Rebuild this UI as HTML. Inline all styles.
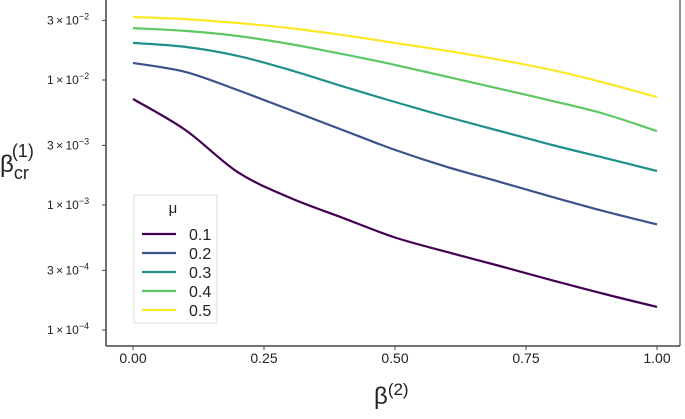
<!DOCTYPE html>
<html><head><meta charset="utf-8"><style>
body{margin:0;background:#fff;}
svg text{font-family:"Liberation Sans",sans-serif;fill:#222;}
</style></head><body>
<svg id="c" width="685" height="414" viewBox="0 0 685 414" xmlns="http://www.w3.org/2000/svg"></svg>
<script>
const xs=[0,0.1,0.2,0.3,0.4,0.5,0.6,0.7,0.8,0.9,1.0];
const mu1=[7.05e-3,3.98e-3,1.83e-3,1.14e-3,7.9e-4,5.5e-4,4.2e-4,3.25e-4,2.5e-4,1.94e-4,1.53e-4];
const mu2=[1.37e-2,1.16e-2,8.3e-3,5.75e-3,3.98e-3,2.76e-3,2.01e-3,1.53e-3,1.16e-3,8.9e-4,7.0e-4];
const mu3=[1.98e-2,1.84e-2,1.56e-2,1.20e-2,8.9e-3,6.67e-3,5.06e-3,3.91e-3,3.02e-3,2.38e-3,1.87e-3];
const mu4=[2.6e-2,2.47e-2,2.25e-2,1.94e-2,1.61e-2,1.32e-2,1.06e-2,8.5e-3,6.8e-3,5.35e-3,3.9e-3];
const mu5=[3.19e-2,3.07e-2,2.86e-2,2.6e-2,2.29e-2,1.98e-2,1.71e-2,1.45e-2,1.2e-2,9.5e-3,7.3e-3];
const seriesNames=["0.1","0.2","0.3","0.4","0.5"];
const xTicks=[0,0.25,0.5,0.75,1.0];
const xTickLabels=["0.00","0.25","0.50","0.75","1.00"];
const yTicks=[3e-2,1e-2,3e-3,1e-3,3e-4,1e-4];
const yTickMant=["3","1","3","1","3","1"];
const yTickExp=["−2","−2","−3","−3","−4","−4"];
const colors=["#440154","#3b528b","#21908c","#5dc863","#fde725"];
const series=[mu1,mu2,mu3,mu4,mu5];
const X=v=>133+524*v;
const Y=v=>80+125*(-2-Math.log10(v));
const svg=document.getElementById('c');
const NS="http://www.w3.org/2000/svg";
function mk(t,a,txt){const e=document.createElementNS(NS,t);for(const k in a)e.setAttribute(k,a[k]);if(txt!==undefined)e.textContent=txt;svg.appendChild(e);return e;}
function smooth(p){let d='M'+p[0][0].toFixed(1)+' '+p[0][1].toFixed(1);
 for(let i=0;i<p.length-1;i++){const p0=p[i-1]||p[i],p1=p[i],p2=p[i+1],p3=p[i+2]||p2;
  const c1=[p1[0]+(p2[0]-p0[0])/6,p1[1]+(p2[1]-p0[1])/6],c2=[p2[0]-(p3[0]-p1[0])/6,p2[1]-(p3[1]-p1[1])/6];
  d+=' C'+c1[0].toFixed(1)+' '+c1[1].toFixed(1)+' '+c2[0].toFixed(1)+' '+c2[1].toFixed(1)+' '+p2[0].toFixed(1)+' '+p2[1].toFixed(1);}
 return d;}
let e;
e=mk('line',{x1:106,y1:0,x2:106,y2:346,stroke:'#222','stroke-width':1.3});

e=mk('line',{x1:106,y1:346,x2:680,y2:346,stroke:'#222','stroke-width':1.3});

e=mk('line',{x1:680,y1:0,x2:680,y2:346,stroke:'#222','stroke-width':1});

yTicks.forEach((v,i)=>{
 const y=Y(v);
 e=mk('line',{x1:102,y1:y,x2:106,y2:y,stroke:'#444'});
 
 const t=mk('text',{x:47,y:y+4,'font-size':12});
 
 t.innerHTML=yTickMant[i]+'\u2009×\u200910<tspan dy="-5" font-size="9">'+yTickExp[i]+'</tspan>';
});
xTicks.forEach((v,i)=>{
 const x=X(v);
 e=mk('line',{x1:x,y1:346,x2:x,y2:350,stroke:'#444'});
 
 e=mk('text',{x:x,y:363,'font-size':14,'text-anchor':'middle'},xTickLabels[i]);
 
});
series.forEach((s,k)=>{
 const d=smooth(s.map((v,i)=>[X(xs[i]),Y(v)]));
 e=mk('path',{d:d,fill:'none',stroke:colors[k],'stroke-width':2.2,'stroke-linejoin':'round'});
 
});
e=mk('rect',{x:134,y:195,width:83,height:128,fill:'#fff',stroke:'#ddd'});

e=mk('text',{x:173,y:213,'font-size':15,'text-anchor':'middle'},'μ');

seriesNames.forEach((n,k)=>{
 const y=234+19*k;
 e=mk('line',{x1:142,y1:y,x2:176,y2:y,stroke:colors[k],'stroke-width':2.2});
 
 e=mk('text',{x:189,y:y+6,'font-size':16},n);
 
});
const yl=mk('text',{x:0,y:172,'font-size':24});

yl.innerHTML='β<tspan font-size="18" dy="7">cr</tspan><tspan font-size="18" dx="-17" dy="-22">(1)</tspan>';
const xl=mk('text',{x:374,y:404,'font-size':24});

xl.innerHTML='β<tspan font-size="17" dy="-9">(2)</tspan>';
</script>
</body></html>
